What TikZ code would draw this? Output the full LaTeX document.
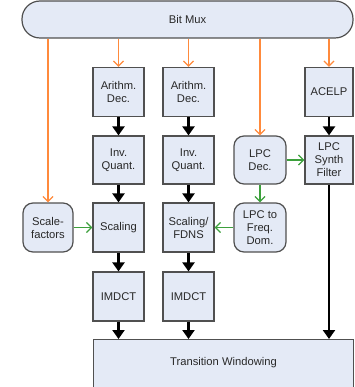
\documentclass[tikz,border=0pt]{standalone}
\usepackage{fontspec}
\setmainfont{Liberation Sans}
\usetikzlibrary{arrows.meta}
\definecolor{boxfill}{RGB}{228,234,246}
\definecolor{boxline}{RGB}{80,80,80}
\definecolor{txt}{RGB}{40,40,40}
\definecolor{orng}{RGB}{255,138,60}
\definecolor{grn}{RGB}{60,160,60}
\tikzset{
  lbl/.style={text=txt, font=\fontsize{11.2}{13}\selectfont},
  box/.style={lbl, draw=boxline, line width=1.2pt, fill=boxfill, inner sep=1pt,
    minimum width=51pt, minimum height=49pt, align=center},
  rbox/.style={box, rounded corners=10pt},
  oarr/.style={draw=orng, line width=1.3pt, -{Straight Barb[length=5pt,width=10pt]}},
  garr/.style={draw=grn, line width=1.3pt, -{Straight Barb[length=5pt,width=10pt]}},
  barr/.style={draw=black, line width=2.4pt, -{Triangle[length=9pt,width=12pt]}},
}
\begin{document}
\begin{tikzpicture}[x=1pt,y=1pt]
\useasboundingbox (0,0) rectangle (354,-387);
\clip (0,0) rectangle (354,-387);
% Bit Mux
\node[box, rounded corners=18pt, minimum width=331pt, minimum height=37pt] (mux) at (187.5,-19.5) {Bit Mux};
% row 1
\node[box] (ad1) at (118.5,-92) {Arithm.\\Dec.};
\node[box] (ad2) at (188.5,-92) {Arithm.\\Dec.};
\node[box, minimum width=48pt] (acelp) at (329,-92) {ACELP};
% row 2
\node[box, minimum height=48pt] (iq1) at (118.5,-160) {Inv.\\Quant.};
\node[box, minimum height=48pt] (iq2) at (188.5,-160) {Inv.\\Quant.};
\node[rbox, minimum width=52pt, minimum height=48pt] (lpcdec) at (260,-160) {LPC\\Dec.};
\node[box, minimum width=48pt, minimum height=48pt] (synth) at (329,-160) {LPC\\Synth\\Filter};
% row 3
\node[rbox, minimum width=50pt] (sf) at (48,-227.5) {Scale-\\factors};
\node[box] (sc1) at (118.5,-227.5) {Scaling};
\node[box] (sc2) at (188.5,-227.5) {Scaling/\\FDNS};
\node[rbox, minimum width=52pt] (lpcfd) at (260,-227.5) {LPC to\\Freq.\\Dom.};
% row 4
\node[box] (im1) at (118.5,-296.5) {IMDCT};
\node[box] (im2) at (188.5,-296.5) {IMDCT};
% transition windowing
\node[box, anchor=north west, minimum width=260pt, minimum height=60pt] (tw) at (93,-339) {};
\node[lbl] (twlabel) at (223.5,-363) {Transition Windowing};
% orange arrows
\draw[oarr] (mux.south -| sf.north) -- (sf.north);
\draw[oarr] (mux.south -| ad1.north) -- (ad1.north);
\draw[oarr] (mux.south -| ad2.north) -- (ad2.north);
\draw[oarr] (mux.south -| lpcdec.north) -- (lpcdec.north);
\draw[oarr] (mux.south -| acelp.north) -- (acelp.north);
% black arrows
\draw[barr] (ad1) -- (iq1);
\draw[barr] (iq1) -- (sc1);
\draw[barr] (sc1) -- (im1);
\draw[barr] (im1.south) -- (im1.south |- tw.north);
\draw[barr] (ad2) -- (iq2);
\draw[barr] (iq2) -- (sc2);
\draw[barr] (sc2) -- (im2);
\draw[barr] (im2.south) -- (im2.south |- tw.north);
\draw[barr] (acelp) -- (synth);
\draw[barr] (synth.south) -- (synth.south |- tw.north);
% green arrows
\draw[garr] (lpcdec) -- (synth);
\draw[garr] (lpcdec) -- (lpcfd);
\draw[garr] (lpcfd) -- (sc2);
\draw[garr] (sf) -- (sc1);
\end{tikzpicture}
\end{document}
